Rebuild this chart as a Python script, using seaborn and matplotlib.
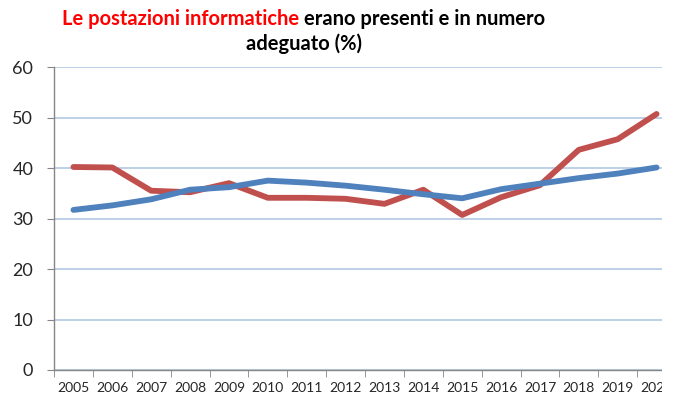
import pandas as pd
import matplotlib.pyplot as plt
import seaborn as sns
from matplotlib.patches import Rectangle

# values
years = [str(y) for y in range(2005, 2021)]
red_vals = [40.2, 40.1, 35.5, 35.2, 37.0, 34.1, 34.1, 33.9, 32.9, 35.7,
            30.7, 34.2, 36.6, 43.6, 45.7, 50.7]
blue_vals = [31.7, 32.6, 33.8, 35.7, 36.2, 37.5, 37.1, 36.5, 35.7, 34.8,
             34.0, 35.8, 36.9, 38.0, 38.9, 40.1]
y_ticks = [0, 10, 20, 30, 40, 50, 60]

sns.set_style("white")
plt.rcParams['font.family'] = ['Lato', 'DejaVu Sans']

df = pd.DataFrame({'anno': years, 'rosso': red_vals, 'blu': blue_vals})

fig = plt.figure(figsize=(6.78, 4.01), dpi=100)
ax = fig.add_axes([54 / 678, 1 - 370 / 401, 622 / 678, 303 / 401])

ax.grid(axis='y', color='#B9CDE5', lw=1.3)
ax.set_axisbelow(True)

sns.lineplot(data=df, x='anno', y='rosso', ax=ax, color='#C0504D', lw=4.2,
             solid_capstyle='round', solid_joinstyle='round', zorder=3)
sns.lineplot(data=df, x='anno', y='blu', ax=ax, color='#4F81BD', lw=4.2,
             solid_capstyle='round', solid_joinstyle='round', zorder=4)

ax.set_xlim(-0.5, 15.5)
ax.set_ylim(0, 60)
ax.set_yticks(y_ticks)
ax.set_yticklabels([str(t) for t in y_ticks], fontsize=13)
ax.set_xticks(range(len(years)))
ax.set_xticklabels(years, fontsize=10)
ax.set_xticks([i - 0.5 for i in range(len(years) + 1)], minor=True)
ax.set_xlabel('')
ax.set_ylabel('')

for s in ['top', 'right']:
    ax.spines[s].set_visible(False)
for s in ['left', 'bottom']:
    ax.spines[s].set_color('#868686')
    ax.spines[s].set_linewidth(1.0)

ax.tick_params(axis='y', which='major', direction='out', length=5,
               color='#868686', pad=10, left=True)
ax.tick_params(axis='x', which='major', length=0, pad=9)
ax.tick_params(axis='x', which='minor', direction='out', length=5,
               color='#868686', bottom=True)

# the original chart is cropped on the right side
fig.add_artist(Rectangle((662 / 678, 0), 16 / 678, 1, transform=fig.transFigure,
                         facecolor='white', edgecolor='none', zorder=10))

# two-colour title
fig.canvas.draw()
r = fig.canvas.get_renderer()
t1 = fig.text(0, 0, 'Le postazioni informatiche ', color='#FF0000',
              fontsize=14.5, fontweight='bold', va='center')
t2 = fig.text(0, 0, 'erano presenti e in numero', color='black',
              fontsize=14.5, fontweight='bold', va='center')
w1 = t1.get_window_extent(r).width
w2 = t2.get_window_extent(r).width
x0 = 304 - (w1 + w2) / 2
y1 = 1 - 19 / 401
t1.set_position((x0 / 678, y1))
t2.set_position(((x0 + w1) / 678, y1))
fig.text(304 / 678, 1 - 44 / 401, 'adeguato (%)', color='black',
         fontsize=14.5, fontweight='bold', ha='center', va='center')

fig.savefig('out.png', dpi=100)
